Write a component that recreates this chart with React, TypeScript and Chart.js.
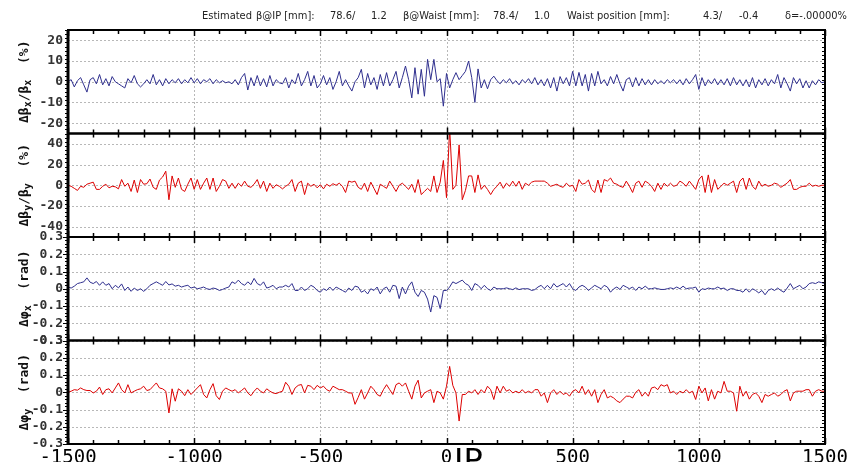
import React, { useEffect, useRef } from 'react';
import { Chart, registerables } from 'chart.js';
Chart.register(...registerables);

// sample positions along the ring [mm]
const positions: number[] = [
  -1500, -1487.5, -1475, -1462.5, -1450, -1437.5, -1425, -1412.5, -1400, -1387.5,
  -1375, -1362.5, -1350, -1337.5, -1325, -1312.5, -1300, -1287.5, -1275, -1262.5,
  -1250, -1237.5, -1225, -1212.5, -1200, -1187.5, -1175, -1162.5, -1150, -1137.5,
  -1125, -1112.5, -1100, -1087.5, -1075, -1062.5, -1050, -1037.5, -1025, -1012.5,
  -1000, -987.5, -975, -962.5, -950, -937.5, -925, -912.5, -900, -887.5,
  -875, -862.5, -850, -837.5, -825, -812.5, -800, -787.5, -775, -762.5,
  -750, -737.5, -725, -712.5, -700, -687.5, -675, -662.5, -650, -637.5,
  -625, -612.5, -600, -587.5, -575, -562.5, -550, -537.5, -525, -512.5,
  -500, -487.5, -475, -462.5, -450, -437.5, -425, -412.5, -400, -387.5,
  -375, -362.5, -350, -337.5, -325, -312.5, -300, -287.5, -275, -262.5,
  -250, -237.5, -225, -212.5, -200, -187.5, -175, -162.5, -150, -137.5,
  -125, -112.5, -100, -87.5, -75, -62.5, -50, -37.5, -25, -12.5,
  0, 12.5, 25, 37.5, 50, 62.5, 75, 87.5, 100, 112.5,
  125, 137.5, 150, 162.5, 175, 187.5, 200, 212.5, 225, 237.5,
  250, 262.5, 275, 287.5, 300, 312.5, 325, 337.5, 350, 362.5,
  375, 387.5, 400, 412.5, 425, 437.5, 450, 462.5, 475, 487.5,
  500, 512.5, 525, 537.5, 550, 562.5, 575, 587.5, 600, 612.5,
  625, 637.5, 650, 662.5, 675, 687.5, 700, 712.5, 725, 737.5,
  750, 762.5, 775, 787.5, 800, 812.5, 825, 837.5, 850, 862.5,
  875, 887.5, 900, 912.5, 925, 937.5, 950, 962.5, 975, 987.5,
  1000, 1012.5, 1025, 1037.5, 1050, 1062.5, 1075, 1087.5, 1100, 1112.5,
  1125, 1137.5, 1150, 1162.5, 1175, 1187.5, 1200, 1212.5, 1225, 1237.5,
  1250, 1262.5, 1275, 1287.5, 1300, 1312.5, 1325, 1337.5, 1350, 1362.5,
  1375, 1387.5, 1400, 1412.5, 1425, 1437.5, 1450, 1462.5, 1475, 1487.5,
  1500,
];

// Δβx/βx [%]
const dBetaX: number[] = [
  0, 1, -2.5, 0.5, 2, -1.5, -5, 1, 2, -1,
  3.5, -1.5, 1.5, -2, 2.5, 0, -1, -2, -3, 1.5,
  -0.5, 3, -1, -2.5, -1, 1, -1, 3.5, -1.5, 1,
  -2, 1.5, -1, 1, -0.5, 1.5, -1, 1, -0.5, 2,
  -0.5, 1.5, -1, 1, 0, 1.5, -1, 1, -0.5, 0.5,
  -0.5, 0, -1, 1, -1.5, 2, 4, -4, 2, -2,
  3, -2, 1.5, -2.5, 3, -2, 1, -0.5, -1, 2,
  -3, 1, -1, 4, -2, 1, 5, -2, 3, -3,
  -1, 3, -1.5, 2, -3.7, 0, 5, -2, 1, -2,
  -4.5, 0, 2, 6, -3, 4, -1.5, 2, -3.7, 3.5,
  -2, 4.4, -2, 1, 5, -3, 2, 7.6, 1, -7.8,
  6.8, -6, 6, -7, 10.8, 1, 10.8, 0, 1.5, -11.8,
  4, -3, 1, 4.4, 1, 3, 5, 10, 2, -10,
  6.2, -3, 1, -3.4, 1, 2.7, 0.5, -1, 1, -0.5,
  1.5, -1, 0.5, -1.5, 1, -0.5, 1.5, -1, 2, -1.5,
  1, -2, 1.5, -3, 2, -4.5, 2.5, -1, 2, -2,
  5, -2, 4.5, -2, 3.5, -4.5, 4, -2, 5, -1,
  1, -2, 2.5, -1, 3.5, -1, -4.5, 1, 2, -2.5,
  2, -2, 1.5, -1.5, 1, -1.5, 1, -1, 0.5, -1,
  1, -0.5, 1, -1, 1, -1.5, 1.5, -1, 1, 3.5,
  -3.7, 2, -2, 1, -1, 1.5, -1.5, 1, -1.5, 1.5,
  -2, 2, -1.5, 1, -2, 1, -2.5, 2, -3, 1,
  -1.5, 1.5, -2, 1, -1, 3.5, -3, 2, -1, -4.5,
  2, -1, 1.5, -3, 0.5, -3, 0.5, -1.5, 1, -0.5,
  0,
];

// Δβy/βy [%]
const dBetaY: number[] = [
  0, -1, -3, -5, -1, -2, 1, 2, 3, -4,
  -4, -1, 1, -2.5, -1, -1.5, -3.5, 5.5, -1, 2,
  -6, 5, -7, 5.5, 1, 1.5, 6, -2, -4, 5,
  8, 13.6, -14, 9, -2, 7, -4, -6, 1, 7,
  -4, 5.5, -4, 2, 7, -4, 7, -6, -1, 5.5,
  4, -3, 2, -3, 2, -1, 4, -1, -2, 1,
  5.5, -3, 4, -6, 2, -3, 0.5, -1, -3.5, -1,
  1, 5.5, -6, 2, 4, -9, 2, -1, 1, -2.5,
  0.5, -3.5, 1, -1, 1.5, 0, 2, -1, -7, 4,
  3, 4, -2, -4, 2, -6, 3, -3, -9, 1,
  -1, -3, 4, -1, -6, 0, 2, -1, -4, 1,
  -7, 5.5, -9, -6, -3, -6, 9, -7, 3, 24,
  -12, 55, -4, 0, 39, -14, -5, 9, 9, -7,
  10, -4, 0, -4, -9, -4, -1, 3, -3, 2,
  -1, 4, -1, 4, -4, 2, 0, 3, 4, 4,
  4, 4, 2, -1, 0, 1, -1, -2, 2, -1,
  0, -6, 5.5, 1, 2, 5, -4, -7, 5, -7,
  5.5, 4, 7, 2, 1, -1, -2, 4, -1, -7,
  2, 4, -2, 4, 2, -1, -6, 2, -4, 2,
  -1, 2, -1, 0, 4, 2, -1, 4, 0, -4,
  5.5, 9, -7, 10, -7, 5.5, -4, -1, 2, 0,
  2, 4, -7, 4, 7, -4, 7, -1, -4, 4,
  -1, 1, -1, 0, 2, 1, -2, 0, 2, 5.5,
  -4, -4, -2, -1, -1, 2, -1, 0, -1, 0,
  0,
];

// Δφx [rad]
const dPhiX: number[] = [
  0.01, 0.004, 0.015, 0.03, 0.035, 0.04, 0.063, 0.038, 0.03, 0.042,
  0.02, 0.04, 0.02, 0.03, 0, 0.02, 0.005, 0.028, -0.01, 0.01,
  -0.015, 0.004, -0.01, 0, -0.015, 0, 0.02, 0.03, 0.04, 0.03,
  0.02, 0.042, 0.022, 0.028, 0.015, 0.02, 0.01, 0.016, 0.02, 0.004,
  0.01, 0, 0.004, 0.01, 0, -0.004, 0.004, 0, -0.01, -0.004,
  0.004, 0.01, 0.04, 0.03, 0.05, 0.03, 0.02, 0.04, 0.024, 0.06,
  0.03, 0.02, 0.04, 0.004, 0.01, 0.02, 0, 0.01, 0.01, 0.02,
  0.01, 0.03, -0.01, -0.01, 0.01, -0.01, 0, 0.02, 0.01, -0.01,
  -0.02, 0, -0.01, 0.01, -0.01, 0.01, 0, -0.01, -0.02, 0.004,
  -0.01, 0.015, 0.01, -0.02, -0.01, -0.03, 0, -0.01, 0.01, -0.03,
  0, 0.01, -0.02, 0.02, 0.015, -0.057, 0.01, -0.03, 0.015, 0.04,
  -0.02, -0.045, -0.01, -0.02, -0.06, -0.135, -0.04, -0.05, -0.115, -0.01,
  -0.01, 0.01, 0.04, 0.03, 0.04, 0.05, 0.03, 0.02, -0.01, 0.03,
  0.02, 0, 0.02, 0, -0.01, 0.01, 0, 0, 0, 0.005,
  0, -0.005, 0.005, -0.005, 0, 0, 0, -0.01, -0.005, 0.01,
  0.02, 0, 0.02, 0, 0.03, 0.01, 0.02, 0.03, 0.01, 0.03,
  0, -0.01, 0.01, 0.02, 0.01, -0.01, 0.005, 0.02, 0.01, 0,
  0.02, 0.01, -0.02, 0, 0.01, -0.004, 0.02, 0.01, 0, 0.01,
  -0.01, 0.01, 0, 0.015, 0, 0, 0.005, 0, -0.004, -0.004,
  0, 0.005, 0, 0.01, 0, 0.015, 0, 0.004, 0.004, 0.01,
  -0.02, 0, -0.004, 0.004, 0, 0, 0.01, 0, 0.004, -0.01,
  0, 0, -0.01, -0.01, -0.02, 0, -0.02, 0, -0.01, -0.024,
  -0.01, -0.035, -0.01, 0, -0.01, 0.004, -0.01, -0.02, 0.004, 0.03,
  0, 0.01, 0.02, 0, 0.01, 0.03, 0.035, 0.03, 0.04, 0.035,
  0.03,
];

// Δφy [rad]
const dPhiY: number[] = [
  0, 0.006, 0.015, 0.012, 0.025, 0.015, 0.01, 0.01, -0.004, 0.006,
  0.03, -0.013, 0.015, 0.02, -0.004, 0.025, 0.054, 0.015, -0.004, 0.044,
  -0.004, 0.006, 0.015, 0.02, 0.035, 0.01, 0.015, 0.035, 0.054, 0.025,
  0.02, 0.006, -0.12, 0.02, -0.052, 0.02, 0.006, -0.02, 0.015, -0.013,
  0.006, 0.025, 0.044, -0.013, -0.033, 0.015, 0.05, -0.02, -0.042, 0.006,
  0.025, 0.015, 0.006, 0.015, -0.004, 0.01, 0.025, -0.004, -0.02, 0.006,
  0.025, 0.006, -0.004, 0.02, 0.006, -0.004, -0.008, 0, 0.006, 0.058,
  0.035, -0.013, 0.025, 0.04, 0.045, -0.004, 0.04, 0.035, 0.015, 0.04,
  0.025, 0.035, 0.015, 0.006, 0.035, 0.025, 0.015, 0.015, 0.006, -0.004,
  -0.004, -0.07, -0.03, 0.015, -0.04, -0.004, 0.035, 0.015, -0.013, -0.023,
  0.015, 0.044, 0.015, -0.013, 0.044, 0.054, 0.035, 0.054, 0.006, -0.04,
  0.035, 0.07, -0.033, -0.004, 0.006, 0.015, -0.06, 0.006, -0.004, -0.04,
  0.035, 0.15, 0.04, -0.004, -0.167, -0.013, -0.013, 0.006, -0.004, 0.015,
  -0.013, 0.015, -0.004, 0.035, 0.015, -0.042, 0.035, -0.004, 0.035, 0.006,
  0.015, -0.004, 0.006, -0.004, 0.015, -0.004, 0.006, -0.004, 0.015, 0.015,
  -0.023, -0.004, -0.06, -0.004, 0.015, -0.013, 0.006, -0.013, -0.004, -0.023,
  0.006, 0.015, -0.004, 0.035, -0.013, 0.015, -0.023, 0.015, -0.06, -0.013,
  0.015, -0.033, -0.023, -0.033, -0.05, -0.06, -0.04, -0.023, -0.023, -0.033,
  0, 0.015, -0.023, 0, -0.023, 0.025, 0.03, 0.015, 0.044, 0.035,
  0.044, -0.004, 0.006, -0.013, 0.006, -0.004, 0.015, -0.004, 0.006, -0.042,
  0.035, -0.004, 0.025, -0.05, 0.015, -0.04, 0.006, -0.004, 0.063, 0.006,
  0.006, -0.004, -0.11, 0.035, -0.023, 0.006, -0.04, -0.013, -0.004, -0.023,
  -0.06, -0.013, -0.023, -0.013, -0.004, -0.023, -0.013, 0.006, 0.015, -0.05,
  -0.004, 0.006, 0.006, 0.006, 0.015, 0.015, -0.023, 0.006, 0.015, 0.006,
  0.006,
];

const xTicks: number[] = [-1500, -1000, -500, 0, 500, 1000, 1500];
const xGrid: number[] = [-1000, -500, 0, 500, 1000];
const yTicksBetaX: number[] = [-20, -10, 0, 10, 20];
const yTicksBetaY: number[] = [-40, -20, 0, 20, 40];
const yTicksPhase: number[] = [-0.3, -0.2, -0.1, 0, 0.1, 0.2, 0.3];

const headerParts: [string, number][] = [
  ['Estimated', 202], ['\u03b2@IP [mm]:', 256], ['78.6/', 330], ['1.2', 371],
  ['\u03b2@Waist [mm]:', 403], ['78.4/', 493], ['1.0', 534],
  ['Waist position [mm]:', 567], ['4.3/', 703], ['-0.4', 739], ['\u03b4=-.00000%', 785],
];

type Seg = { t: string; sub?: boolean };
const BLUE = '#2f2f8e';
const RED = '#dd0000';

// listed top to bottom
const panels = [
  { id: 'y1', data: dBetaX, color: BLUE, min: -25, max: 25, ticks: yTicksBetaX, minor: 2,
    title: [{ t: '\u0394\u03b2' }, { t: 'x', sub: true }, { t: '/\u03b2' }, { t: 'x', sub: true }, { t: '  (%)' }] as Seg[] },
  { id: 'y2', data: dBetaY, color: RED, min: -50, max: 50, ticks: yTicksBetaY, minor: 4,
    title: [{ t: '\u0394\u03b2' }, { t: 'y', sub: true }, { t: '/\u03b2' }, { t: 'y', sub: true }, { t: '  (%)' }] as Seg[] },
  { id: 'y3', data: dPhiX, color: BLUE, min: -0.3, max: 0.3, ticks: yTicksPhase, minor: 0.02,
    title: [{ t: '\u0394\u03c6' }, { t: 'x', sub: true }, { t: '  (rad)' }] as Seg[] },
  { id: 'y4', data: dPhiY, color: RED, min: -0.3, max: 0.3, ticks: yTicksPhase, minor: 0.02,
    title: [{ t: '\u0394\u03c6' }, { t: 'y', sub: true }, { t: '  (rad)' }] as Seg[] },
];

const MONO = "'DejaVu Sans Mono', monospace";

const framePlugin = {
  id: 'framePlugin',
  beforeDatasetsDraw(chart: any) {
    const { ctx, chartArea: a } = chart;
    const xs = chart.scales.x;
    ctx.save();
    ctx.strokeStyle = '#b8b8b8';
    ctx.lineWidth = 1;
    ctx.setLineDash([2, 2]);
    ctx.beginPath();
    for (const v of xGrid) {
      const px = Math.round(xs.getPixelForValue(v)) + 0.5;
      ctx.moveTo(px, a.top);
      ctx.lineTo(px, a.bottom);
    }
    for (const p of panels) {
      const s = chart.scales[p.id];
      for (const v of p.ticks) {
        const py = Math.round(s.getPixelForValue(v)) + 0.5;
        ctx.moveTo(a.left, py);
        ctx.lineTo(a.right, py);
      }
    }
    ctx.stroke();
    ctx.restore();
  },
  beforeDatasetDraw(chart: any, args: any) {
    const { ctx, chartArea: a } = chart;
    const s = args.meta.yScale;
    ctx.save();
    ctx.beginPath();
    ctx.rect(a.left, s.top, a.right - a.left, s.bottom - s.top);
    ctx.clip();
  },
  afterDatasetDraw(chart: any) {
    chart.ctx.restore();
  },
  afterDatasetsDraw(chart: any) {
    const { ctx, chartArea: a } = chart;
    const xs = chart.scales.x;
    ctx.save();
    ctx.strokeStyle = '#000';
    for (const p of panels) {
      const s = chart.scales[p.id];
      const top = s.top, bot = s.bottom;
      ctx.lineWidth = 2;
      ctx.strokeRect(a.left, top, a.right - a.left, bot - top);
      ctx.lineWidth = 1.5;
      ctx.beginPath();
      for (let v = -1500; v <= 1500; v += 100) {
        const px = Math.round(xs.getPixelForValue(v)) + 0.5;
        const len = v % 500 === 0 ? 6 : 4;
        ctx.moveTo(px, top);
        ctx.lineTo(px, top + len);
        ctx.moveTo(px, bot);
        ctx.lineTo(px, bot - len);
      }
      ctx.stroke();
      ctx.lineWidth = 1;
      ctx.beginPath();
      const n = Math.round((p.max - p.min) / p.minor);
      for (let k = 0; k <= n; k++) {
        const v = p.min + k * p.minor;
        const isMajor = p.ticks.some((t) => Math.abs(t - v) < 1e-9);
        const py = Math.round(s.getPixelForValue(v)) + 0.5;
        const len = isMajor ? 5 : 3;
        ctx.moveTo(a.left - len, py);
        ctx.lineTo(a.left, py);
        ctx.moveTo(a.right, py);
        ctx.lineTo(a.right - len, py);
      }
      ctx.stroke();
    }
    ctx.lineWidth = 3;
    ctx.beginPath();
    ctx.moveTo(a.left, a.top);
    ctx.lineTo(a.left, a.bottom);
    ctx.stroke();
    ctx.restore();
  },
  afterDraw(chart: any) {
    const { ctx } = chart;
    ctx.save();
    ctx.fillStyle = '#111';
    ctx.textBaseline = 'middle';
    for (const p of panels) {
      const s = chart.scales[p.id];
      const cy = (s.top + s.bottom) / 2;
      const fontMain = `bold 13px ${MONO}`;
      const fontSub = `bold 10px ${MONO}`;
      let total = 0;
      for (const g of p.title) {
        ctx.font = g.sub ? fontSub : fontMain;
        total += ctx.measureText(g.t).width;
      }
      ctx.save();
      ctx.translate(25, cy);
      ctx.rotate(-Math.PI / 2);
      let xx = -total / 2;
      for (const g of p.title) {
        ctx.font = g.sub ? fontSub : fontMain;
        ctx.textAlign = 'left';
        ctx.fillText(g.t, xx, g.sub ? 3 : 0);
        xx += ctx.measureText(g.t).width;
      }
      ctx.restore();
    }
    ctx.font = "11px 'DejaVu Sans Condensed', 'DejaVu Sans', sans-serif";
    ctx.fillStyle = '#222';
    ctx.textAlign = 'left';
    ctx.textBaseline = 'alphabetic';
    for (const [t, x] of headerParts) ctx.fillText(t, x, 19);
    ctx.font = "32px 'DejaVu Sans', sans-serif";
    ctx.fillStyle = '#000';
    ctx.fillText('IP', 454, 471);
    ctx.restore();
  },
};

export default function App() {
  const ref = useRef<HTMLCanvasElement | null>(null);
  useEffect(() => {
    if (!ref.current) return;
    const scales: any = {
      x: {
        type: 'linear',
        position: 'bottom',
        min: -1500,
        max: 1500,
        afterBuildTicks: (s: any) => { s.ticks = xTicks.map((v) => ({ value: v })); },
        afterFit: (s: any) => { s.height = 26; },
        grid: { display: false, drawTicks: false },
        border: { display: false },
        ticks: {
          font: { family: MONO, size: 19 }, color: '#000', padding: 3, maxRotation: 0, autoSkip: false,
          callback: (v: any) => String(v),
        },
      },
    };
    // stacked left axes are laid out bottom-up, so register them in reverse
    for (const p of [...panels].reverse()) {
      scales[p.id] = {
        type: 'linear',
        position: 'left',
        stack: 'panels',
        stackWeight: 1,
        min: p.min,
        max: p.max,
        afterBuildTicks: (s: any) => { s.ticks = p.ticks.map((v) => ({ value: v })); },
        afterFit: (s: any) => { s.width = 60; },
        grid: { display: false, drawTicks: false },
        border: { display: false },
        ticks: {
          font: { family: MONO, size: 13, weight: 'bold' }, color: '#333', padding: 5, autoSkip: false,
          callback: (v: any) => String(Math.round(v * 1000) / 1000),
        },
      };
    }
    const chart = new Chart(ref.current, {
      type: 'line',
      data: {
        datasets: panels.map((p) => ({
          data: positions.map((x, i) => ({ x, y: p.data[i] })),
          yAxisID: p.id,
          borderColor: p.color,
          borderWidth: 1,
          pointRadius: 0,
          fill: false,
          tension: 0,
        })),
      },
      options: {
        responsive: false,
        animation: false,
        devicePixelRatio: 1,
        layout: { padding: { left: 8, right: 30, top: 30, bottom: 0 } },
        plugins: { legend: { display: false }, tooltip: { enabled: false } },
        scales,
      } as any,
      plugins: [framePlugin],
    });
    return () => chart.destroy();
  }, []);
  return (
    <div style={{ position: 'relative', width: 855, height: 470, margin: -8, background: '#efefef', overflow: 'hidden' }}>
      <div style={{ position: 'absolute', left: 8, top: 7, width: 840, height: 463, background: '#ffffff' }} />
      <canvas ref={ref} width={855} height={470} style={{ position: 'absolute', left: 0, top: 0, width: 855, height: 470 }} />
    </div>
  );
}
